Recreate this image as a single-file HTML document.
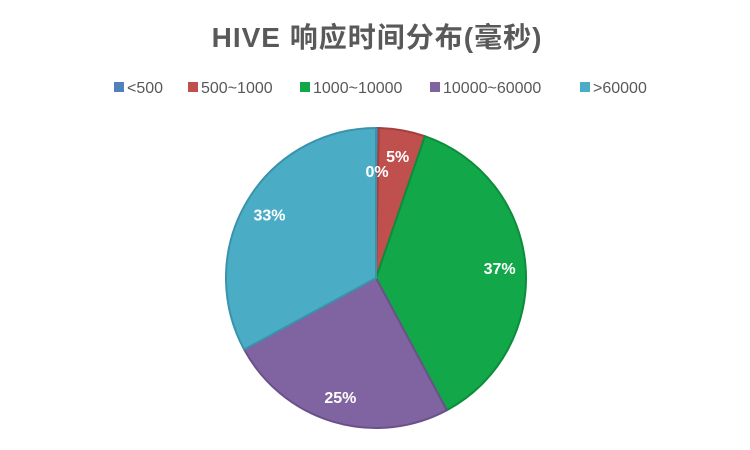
<!DOCTYPE html>
<html><head><meta charset="utf-8"><style>
html,body{margin:0;padding:0;background:#fff;width:750px;height:450px;overflow:hidden}
svg{display:block}
</style></head><body>
<svg width="750" height="450">
<text x="377" y="47" text-anchor="middle" font-family="'Liberation Sans','Noto Sans CJK SC',sans-serif" font-size="28" font-weight="bold" letter-spacing="1" fill="#595959">HIVE 响应时间分布(毫秒)</text>
<g id="legend"></g>
<g id="slices"></g>
<g id="labels"></g>
</svg>
<script>
const categories = ['<500', '500~1000', '1000~10000', '10000~60000', '>60000'];
const values = [0.3, 5, 37, 25, 33];
const labelTexts = ['0%', '5%', '37%', '25%', '33%'];
const colors = ['#4f81bd', '#c0504d', '#12a84a', '#8064a2', '#4bacc6'];
const strokes = ['#3d6a9e', '#a33f3c', '#0d8c3c', '#6a5189', '#3a93ab'];
const NS = 'http://www.w3.org/2000/svg';
const cx = 376, cy = 278, R = 150;
const total = values.reduce((a, b) => a + b, 0);
function pt(angleDeg, r) {
  const a = (angleDeg - 90) * Math.PI / 180;
  return [cx + r * Math.cos(a), cy + r * Math.sin(a)];
}
const sg = document.getElementById('slices');
const lg = document.getElementById('labels');
let start = 0;
values.forEach((v, i) => {
  const sweep = v / total * 360;
  const end = start + sweep;
  const p1 = pt(start, R), p2 = pt(end, R);
  const large = sweep > 180 ? 1 : 0;
  const path = document.createElementNS(NS, 'path');
  path.setAttribute('d', `M${cx},${cy} L${p1[0]},${p1[1]} A${R},${R} 0 ${large} 1 ${p2[0]},${p2[1]} Z`);
  path.setAttribute('fill', colors[i]);
  path.setAttribute('stroke', strokes[i]);
  path.setAttribute('stroke-width', '2');
  path.setAttribute('stroke-linejoin', 'round');
  
  
  sg.appendChild(path);
  const mid = (start + end) / 2;
  const lr = v < 1 ? 107 : 124;
  const lp = pt(mid, lr);
  const t = document.createElementNS(NS, 'text');
  t.setAttribute('x', lp[0]);
  t.setAttribute('y', lp[1] + 6);
  t.setAttribute('text-anchor', 'middle');
  t.setAttribute('font-family', 'Liberation Sans, sans-serif');
  t.setAttribute('font-size', '16');
  t.setAttribute('font-weight', 'bold');
  t.setAttribute('fill', '#ffffff');
  t.textContent = labelTexts[i];
  
  
  lg.appendChild(t);
  start = end;
});
const legend = document.getElementById('legend');
const legendX = [114, 188, 300, 430, 580];
categories.forEach((c, i) => {
  const g = document.createElementNS(NS, 'g');
  
  
  const r = document.createElementNS(NS, 'rect');
  r.setAttribute('x', legendX[i]);
  r.setAttribute('y', 82);
  r.setAttribute('width', 10);
  r.setAttribute('height', 10);
  r.setAttribute('fill', colors[i]);
  g.appendChild(r);
  const t = document.createElementNS(NS, 'text');
  t.setAttribute('x', legendX[i] + 13);
  t.setAttribute('y', 93);
  t.setAttribute('font-family', 'Liberation Sans, sans-serif');
  t.setAttribute('font-size', '16');
  t.setAttribute('fill', '#595959');
  t.textContent = c;
  g.appendChild(t);
  legend.appendChild(g);
});
</script>
</body></html>
